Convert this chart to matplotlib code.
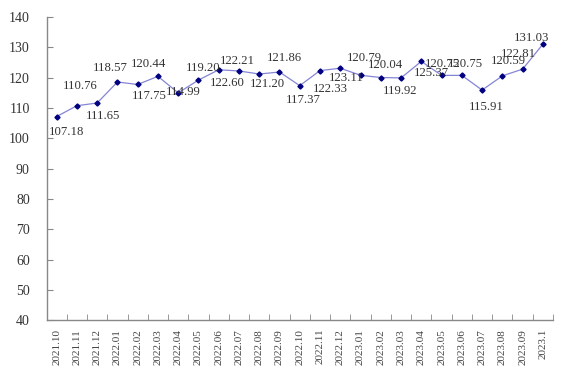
import matplotlib
matplotlib.use("Agg")
import matplotlib.pyplot as plt

# maanden en indexwaarden
months = ["2021.10", "2021.11", "2021.12", "2022.01", "2022.02", "2022.03",
          "2022.04", "2022.05", "2022.06", "2022.07", "2022.08", "2022.09",
          "2022.10", "2022.11", "2022.12", "2023.01", "2023.02", "2023.03",
          "2023.04", "2023.05", "2023.06", "2023.07", "2023.08", "2023.09",
          "2023.1"]
values = [107.18, 110.76, 111.65, 118.57, 117.75, 120.44, 114.99, 119.20,
          122.60, 122.21, 121.20, 121.86, 117.37, 122.33, 123.11, 120.79,
          120.04, 119.92, 125.37, 120.75, 120.75, 115.91, 120.59, 122.81,
          131.03]
yticks = list(range(40, 141, 10))

# positie van de labels t.o.v. het punt (pixels)
label_offsets = [(10, -15), (3, 20), (6, -13), (-7, 14), (12, -12), (-9, 12),
                 (5, 1), (5, 12), (9, -13), (-2, 10), (8, -10), (5, 14),
                 (4, -14), (10, -18), (6, -10), (4, 17), (5, 13), (-1, -13),
                 (10, -12), (1, 11), (4, 11), (4, -17), (6, 15), (-4, 15),
                 (-11, 6)]

fig = plt.figure(figsize=(5.72, 3.77), dpi=100)
ax = fig.add_axes([0.0813, 0.150, 0.8855, 0.805])

x = list(range(len(months)))
ax.plot(x, values, color="#8585d6", linewidth=0.9,
        marker="D", markersize=2.6, markerfacecolor="#000080",
        markeredgecolor="#000080")

for xi, v, (dx, dy) in zip(x, values, label_offsets):
    ax.annotate("%.2f" % v, (xi, v), xytext=(dx, dy), textcoords="offset pixels",
                ha="center", va="center", fontsize=9.2,
                family="Liberation Serif", color="#333333")

ax.set_xlim(-0.5, len(months) - 0.5)
ax.set_ylim(40, 140)
ax.set_yticks(yticks)
ax.set_xticks(x)
ax.set_xticklabels(months, rotation=90, family="Liberation Serif", fontsize=8,
                   color="#444444")
ax.set_xticks([i + 0.5 for i in range(-1, len(months))], minor=True)
ax.tick_params(axis="x", which="major", length=0, pad=6)
ax.tick_params(axis="x", which="minor", direction="in", length=4, color="#888888")
ax.tick_params(axis="y", direction="in", length=4, color="#888888",
               labelsize=10, pad=12, labelcolor="#333333")
for lab in ax.get_yticklabels():
    lab.set_family("Liberation Serif")

for s in ["top", "right"]:
    ax.spines[s].set_visible(False)
for s in ["left", "bottom"]:
    ax.spines[s].set_color("#888888")
    ax.spines[s].set_linewidth(1)

plt.savefig("out.png", dpi=100)
